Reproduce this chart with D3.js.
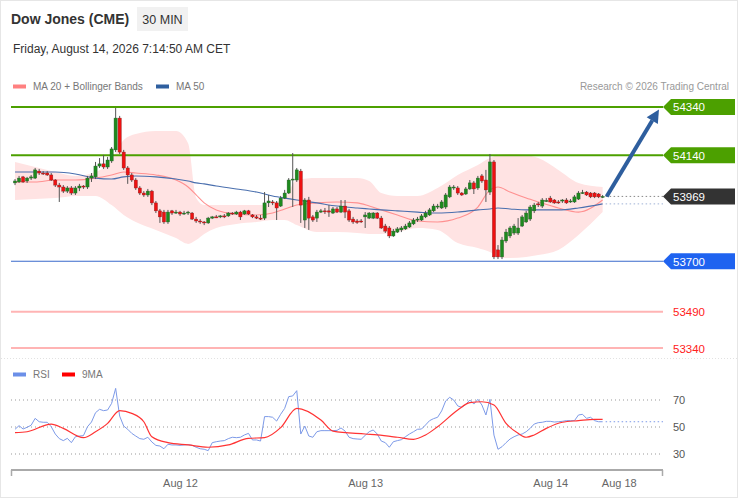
<!DOCTYPE html>
<html>
<head>
<meta charset="utf-8">
<script src="https://cdn.jsdelivr.net/npm/d3@7"></script>
<style>
    body { margin: 0; background: #fff; font-family: "Liberation Sans", Arial, sans-serif; }
</style>
</head>
<body>
<div id="chart"></div>
<script>

// 30 min candles, [open, high, low, close]
const candles = [
    [54025,54041,54016,54033],[54029,54054,54025,54045],[54050,54054,54025,54029],[54033,54050,54025,54045],[54045,54058,54037,54050],
    [54045,54087,54041,54079],[54074,54083,54058,54066],[54066,54074,54058,54064],[54066,54074,54054,54058],[54058,54066,54033,54037],
    [54037,54041,54008,54016],[54016,54025,53946,54008],[54008,54016,53983,53991],[53991,54012,53983,54004],[54004,54012,53975,53983],
    [53983,54012,53975,54004],[54004,54021,53991,54012],[54012,54016,54000,54008],[54008,54054,54000,54045],[54045,54066,54029,54054],
    [54050,54112,54041,54095],[54095,54128,54087,54104],[54104,54141,54083,54091],[54091,54133,54083,54120],[54116,54174,54108,54166],
    [54162,54336,54153,54294],[54294,54303,54145,54153],[54153,54162,54079,54087],[54087,54095,54021,54058],[54058,54066,54029,54037],
    [54037,54045,53996,54004],[54004,54012,53975,53983],[53983,53991,53967,53975],[53975,54000,53967,53991],[53991,53996,53933,53942],
    [53942,53950,53900,53909],[53909,53917,53859,53884],[53904,53913,53855,53863],[53863,53913,53855,53904],[53909,53913,53892,53900],
    [53900,53913,53896,53904],[53904,53909,53888,53896],[53896,53909,53892,53900],[53900,53909,53892,53904],[53900,53904,53871,53875],
    [53875,53884,53859,53867],[53867,53875,53855,53863],[53863,53867,53850,53859],[53859,53884,53855,53879],[53879,53888,53875,53884],
    [53884,53892,53879,53882],[53884,53892,53879,53888],[53888,53896,53879,53886],[53888,53904,53884,53900],[53900,53904,53892,53898],
    [53896,53909,53892,53904],[53904,53909,53871,53884],[53896,53913,53892,53909],[53909,53913,53892,53896],[53892,53896,53879,53884],
    [53884,53892,53875,53879],[53879,53892,53871,53877],[53879,53987,53871,53942],[53942,53975,53925,53950],[53946,53954,53933,53942],
    [53942,53950,53871,53921],[53929,53971,53925,53962],[53962,53996,53958,53983],[53983,54045,53979,54037],[54037,54149,53925,54041],
    [54037,54087,54029,54079],[54074,54083,53859,53933],[53871,53962,53838,53954],[53954,53967,53830,53879],[53884,53892,53863,53871],
    [53879,53913,53863,53904],[53904,53917,53900,53909],[53909,53921,53896,53907],[53909,53933,53884,53904],[53900,53925,53896,53917],
    [53917,53925,53900,53904],[53904,53954,53900,53929],[53929,53954,53879,53904],[53909,53917,53863,53871],[53875,53884,53855,53863],
    [53867,53875,53855,53861],[53867,53875,53859,53863],[53884,53904,53838,53892],[53879,53904,53875,53900],[53879,53904,53875,53900],
    [53900,53904,53875,53879],[53879,53888,53834,53838],[53846,53855,53817,53825],[53838,53846,53796,53805],[53805,53834,53801,53825],
    [53821,53842,53817,53834],[53830,53846,53821,53838],[53834,53855,53830,53846],[53842,53867,53838,53859],[53855,53879,53850,53871],
    [53871,53884,53863,53875],[53871,53896,53867,53888],[53884,53909,53879,53900],[53892,53921,53888,53913],[53909,53938,53904,53929],
    [53927,53938,53917,53929],[53921,53954,53917,53946],[53925,53983,53917,53975],[53967,54016,53962,54008],[54004,54016,53996,54008],
    [54004,54012,53975,53983],[53983,53987,53971,53975],[53979,54008,53975,54000],[54000,54037,53996,54025],[54025,54033,53979,54000],
    [54004,54054,53996,54045],[54054,54062,54025,54033],[54037,54079,53946,53996],[53987,54145,53975,54112],[54112,54120,53709,53718],
    [53747,53767,53709,53718],[53718,53801,53709,53788],[53784,53834,53776,53821],[53805,53846,53796,53838],[53817,53855,53809,53846],
    [53817,53879,53809,53838],[53846,53892,53842,53884],[53863,53909,53859,53900],[53875,53933,53867,53925],[53909,53942,53900,53933],
    [53938,53946,53925,53936],[53929,53962,53921,53954],[53950,53962,53946,53952],[53962,53971,53942,53946],[53954,53958,53938,53942],
    [53946,53954,53938,53944],[53950,53958,53942,53954],[53954,53962,53938,53942],[53946,53958,53942,53950],[53946,53975,53942,53967],
    [53958,53991,53954,53983],[53983,53996,53979,53985],[53987,53991,53971,53975],[53983,53987,53962,53967],[53983,53987,53962,53967],
    [53979,53983,53962,53967],[53967,53975,53962,53969]
];

// indicator readings (candle index -> value)
const bandIdx = [0,5,10,15,20,24,27,30,35,40,43,45,47,50,55,60,64,67,70,75,80,85,88,91,95,100,105,110,115,118,120,123,127,130,135,140,146];
const bandUpper = [54112,54091,54070,54054,54070,54120,54203,54228,54240,54240,54190,53962,53933,53933,53933,53933,53942,53962,54037,54045,54045,54045,54033,53983,53971,53971,54004,54058,54099,54128,54141,54145,54141,54128,54079,54025,54008];
const bandLower = [53954,53958,53962,53971,53971,53933,53892,53863,53830,53796,53772,53788,53813,53838,53855,53863,53871,53871,53850,53821,53821,53817,53813,53813,53821,53838,53830,53776,53755,53738,53718,53713,53718,53726,53747,53809,53904];
const ma20 = [54029,54029,54037,54037,54045,54058,54070,54066,54058,54037,54008,53975,53942,53913,53896,53892,53900,53917,53933,53942,53946,53942,53929,53913,53892,53867,53863,53879,53925,53996,54008,53987,53962,53946,53921,53904,53954];
const ma50 = [54070,54070,54070,54062,54045,54041,54050,54054,54050,54041,54033,54025,54021,54012,54000,53987,53971,53962,53954,53942,53929,53921,53917,53913,53909,53904,53900,53904,53913,53917,53921,53917,53913,53913,53913,53921,53938];

const rsi = [
    48.3,51.0,48.5,49.8,51.3,56.4,53.9,53.5,53.5,50.2,
    44.8,41.4,39.9,41.6,38.4,42.8,43.3,43.6,50.2,53.7,
    60.6,63.1,62.1,62.6,67.5,78.6,58.1,50.7,48.3,45.3,
    43.3,41.4,40.9,42.4,38.9,36.4,35.9,33.9,37.2,36.7,
    36.7,36.4,36.7,36.9,36.4,35.0,33.9,33.5,32.5,38.4,
    39.1,39.6,39.9,41.4,42.4,42.1,42.4,44.1,45.3,40.4,
    40.4,39.6,57.7,57.7,57.2,54.4,59.4,63.8,72.5,73.0,
    76.9,44.8,50.7,43.3,42.4,46.5,47.3,47.3,47.3,47.3,
    47.5,49.3,47.0,42.4,41.4,41.1,40.9,43.8,46.5,47.8,
    44.8,39.6,38.4,35.0,39.1,39.9,40.6,42.8,44.8,46.5,
    48.3,48.5,51.5,54.7,56.2,57.2,61.9,69.3,72.0,70.0,
    65.6,64.6,66.8,70.0,67.0,70.5,66.3,58.9,70.5,44.0,
    33.5,35.4,38.4,41.1,42.8,44.1,44.8,46.5,49.0,52.2,
    53.2,53.5,54.2,54.2,53.7,53.9,54.2,54.7,54.7,54.7,
    58.9,59.4,56.4,57.2,54.7,53.9,53.9
];
const rsiMaIdx = [0,3,9,12,17,20,23,26,29,32,34,38,43,48,53,58,62,66,70,76,79,87,90,95,99,102,105,110,113,116,119,122,125,127,129,132,136,140,144,146];
const rsiMa = [45.8,46.5,52.2,49.0,42.1,46.5,52.7,62.1,60.1,53.9,42.8,38.4,36.7,35.0,36.7,41.6,42.1,49.5,63.8,55.2,47.0,44.8,44.1,42.4,40.9,44.1,50.2,62.6,68.0,68.7,66.3,52.7,45.3,42.4,44.1,49.0,53.5,54.7,55.7,55.7];

const resistances = [54340, 54140];
const lastPrice = 53969;
const support = 53700;
const lowerLevels = [53490, 53340];
const rsiLevels = [70, 50, 30];
const target = 54330;

const tickIdx = [41, 87, 133, 150];
const tickLabels = ["Aug 12", "Aug 13", "Aug 14", "Aug 18"];

// ---------------------------------------------------------------
const W = 738, H = 500;
const left = 11, right = 663;

const svg = d3.select("#chart").append("svg")
    .attr("width", W)
    .attr("height", H);

svg.append("rect")
    .attr("x", 0.5).attr("y", 0.5)
    .attr("width", W - 1).attr("height", H - 3)
    .attr("fill", "#fff")
    .attr("stroke", "#e6e6e6");

// scales
const x = d3.scaleLinear().domain([-1, 161]).range([left, right]);
const y = d3.scaleLinear().domain([53340, 54340]).range([348, 107]);
const yRsi = d3.scaleLinear().domain([30, 70]).range([454, 400]);

// header
svg.append("text")
    .attr("x", 11).attr("y", 24)
    .attr("font-size", 14).attr("font-weight", "bold")
    .attr("fill", "#333")
    .text("Dow Jones (CME)");

svg.append("rect")
    .attr("x", 137).attr("y", 7)
    .attr("width", 51).attr("height", 24)
    .attr("fill", "#f1f1f1");
svg.append("text")
    .attr("x", 162.5).attr("y", 23.5)
    .attr("text-anchor", "middle")
    .attr("font-size", 12.5).attr("fill", "#333")
    .text("30 MIN");

svg.append("text")
    .attr("x", 13).attr("y", 53)
    .attr("font-size", 12).attr("fill", "#333")
    .text("Friday, August 14, 2026 7:14:50 AM CET");

// legend
const legend = [
    { x: 13, color: "#ff8080", label: "MA 20 + Bollinger Bands" },
    { x: 156, color: "#2f5f9f", label: "MA 50" }
];
legend.forEach(d => {
    svg.append("rect").attr("x", d.x).attr("y", 84.5).attr("width", 13).attr("height", 4).attr("fill", d.color);
    svg.append("text").attr("x", d.x + 20).attr("y", 90)
        .attr("font-size", 10).attr("fill", "#777").text(d.label);
});
svg.append("text")
    .attr("x", 729).attr("y", 90)
    .attr("text-anchor", "end")
    .attr("font-size", 10).attr("fill", "#999")
    .text("Research \u00a9 2026 Trading Central");

// bollinger band + moving averages
const bandData = bandIdx.map((d, i) => ({ i: d, up: bandUpper[i], lo: bandLower[i], m20: ma20[i], m50: ma50[i] }));

svg.append("path")
    .datum(bandData)
    .attr("fill", "#ffe3e3")
    .attr("d", d3.area()
        .x(d => x(d.i))
        .y0(d => y(d.lo))
        .y1(d => y(d.up))
        .curve(d3.curveMonotoneX));

svg.append("path")
    .datum(bandData)
    .attr("fill", "none")
    .attr("stroke", "#ff9090")
    .attr("stroke-width", 1.1)
    .attr("d", d3.line().x(d => x(d.i)).y(d => y(d.m20)).curve(d3.curveMonotoneX));

svg.append("path")
    .datum(bandData)
    .attr("fill", "none")
    .attr("stroke", "#4a6fae")
    .attr("stroke-width", 1.1)
    .attr("d", d3.line().x(d => x(d.i)).y(d => y(d.m50)).curve(d3.curveMonotoneX));

// level lines
resistances.forEach(v => {
    svg.append("line")
        .attr("x1", left).attr("x2", right)
        .attr("y1", y(v)).attr("y2", y(v))
        .attr("stroke", "#4ca000").attr("stroke-width", 2);
});
svg.append("line")
    .attr("x1", left).attr("x2", right)
    .attr("y1", y(support)).attr("y2", y(support))
    .attr("stroke", "#3a6acb").attr("stroke-width", 1.2);
lowerLevels.forEach(v => {
    svg.append("line")
        .attr("x1", left).attr("x2", right)
        .attr("y1", y(v)).attr("y2", y(v))
        .attr("stroke", "#ffb4b4").attr("stroke-width", 2);
    svg.append("text")
        .attr("x", 673).attr("y", y(v) + 4.5)
        .attr("font-size", 11.5).attr("fill", "#ff2020")
        .text(v);
});

// dotted extensions from the last bar
const lastI = candles.length - 1;
svg.append("line")
    .attr("x1", x(lastI) + 3).attr("x2", right)
    .attr("y1", y(lastPrice)).attr("y2", y(lastPrice))
    .attr("stroke", "#888").attr("stroke-dasharray", "1.5,2.5");
svg.append("line")
    .attr("x1", x(lastI) + 3).attr("x2", right)
    .attr("y1", y(ma50[ma50.length - 1])).attr("y2", y(ma50[ma50.length - 1]))
    .attr("stroke", "#9fb2d6").attr("stroke-dasharray", "1.5,2.5");

// candles
const bars = svg.append("g").selectAll("g")
    .data(candles)
    .enter()
    .append("g");

bars.append("line")
    .attr("x1", (d, i) => x(i)).attr("x2", (d, i) => x(i))
    .attr("y1", d => y(d[1])).attr("y2", d => y(d[2]))
    .attr("stroke", "#555").attr("stroke-width", 1);

bars.append("rect")
    .attr("x", (d, i) => x(i) - 1.6)
    .attr("width", 3.2)
    .attr("y", d => y(Math.max(d[0], d[3])))
    .attr("height", d => Math.max(1, Math.abs(y(d[0]) - y(d[3]))))
    .attr("fill", d => d[3] >= d[0] ? "#1e8a1e" : "#ee1111")
    .attr("stroke", d => d[3] >= d[0] ? "#2b5e2b" : "#8a2020")
    .attr("stroke-width", 0.4);

// forecast arrow
const ax1 = x(lastI + 1), ay1 = y(lastPrice);
const ax2 = x(160), ay2 = y(target);
const ang = Math.atan2(ay2 - ay1, ax2 - ax1);
const headLen = 13, headW = 6.5;
const bx = ax2 - headLen * Math.cos(ang), by = ay2 - headLen * Math.sin(ang);
svg.append("line")
    .attr("x1", ax1).attr("y1", ay1)
    .attr("x2", bx).attr("y2", by)
    .attr("stroke", "#2e5e9e").attr("stroke-width", 4);
svg.append("path")
    .attr("d", "M" + ax2 + "," + ay2 +
        "L" + (bx + headW * Math.sin(ang)) + "," + (by - headW * Math.cos(ang)) +
        "L" + (bx - headW * Math.sin(ang)) + "," + (by + headW * Math.cos(ang)) + "Z")
    .attr("fill", "#2e5e9e");

// price tags on the right
const tags = [
    { v: resistances[0], fill: "#4ca000" },
    { v: resistances[1], fill: "#4ca000" },
    { v: lastPrice, fill: "#333333" },
    { v: support, fill: "#1f63f0" }
];
tags.forEach(t => {
    let ty = y(t.v);
    svg.append("path")
        .attr("d", "M663," + ty + "L671," + (ty - 8) + "L735," + (ty - 8) + "L735," + (ty + 8) + "L671," + (ty + 8) + "Z")
        .attr("fill", t.fill);
    svg.append("text")
        .attr("x", 673).attr("y", ty + 4.3)
        .attr("font-size", 11.5).attr("fill", "#fff")
        .text(t.v);
});

// separator
svg.append("line")
    .attr("x1", 1).attr("x2", W - 1)
    .attr("y1", 358.5).attr("y2", 358.5)
    .attr("stroke", "#e2e2e2").attr("stroke-dasharray", "1,2");

// RSI panel
const rsiLegend = [
    { x: 13, color: "#6b8fe8", label: "RSI" },
    { x: 62, color: "#ff0000", label: "9MA" }
];
rsiLegend.forEach(d => {
    svg.append("rect").attr("x", d.x).attr("y", 372.5).attr("width", 13).attr("height", 4).attr("fill", d.color);
    svg.append("text").attr("x", d.x + 20).attr("y", 378)
        .attr("font-size", 10).attr("fill", "#777").text(d.label);
});

rsiLevels.forEach(v => {
    svg.append("line")
        .attr("x1", left).attr("x2", right)
        .attr("y1", yRsi(v)).attr("y2", yRsi(v))
        .attr("stroke", "#999").attr("stroke-dasharray", "1,3");
    svg.append("text")
        .attr("x", 673).attr("y", yRsi(v) + 4)
        .attr("font-size", 11).attr("fill", "#555")
        .text(v);
});

svg.append("path")
    .datum(rsi)
    .attr("fill", "none")
    .attr("stroke", "#7d9ae8")
    .attr("stroke-width", 1)
    .attr("d", d3.line().x((d, i) => x(i)).y(d => yRsi(d)));

svg.append("line")
    .attr("x1", x(lastI) + 3).attr("x2", right)
    .attr("y1", yRsi(rsi[lastI])).attr("y2", yRsi(rsi[lastI]))
    .attr("stroke", "#7d9ae8").attr("stroke-dasharray", "1.5,2.5");

svg.append("path")
    .datum(rsiMaIdx.map((d, i) => [d, rsiMa[i]]))
    .attr("fill", "none")
    .attr("stroke", "#ff3333")
    .attr("stroke-width", 1.2)
    .attr("d", d3.line().x(d => x(d[0])).y(d => yRsi(d[1])).curve(d3.curveMonotoneX));

// x axis
svg.append("line")
    .attr("x1", left).attr("x2", right)
    .attr("y1", 470).attr("y2", 470)
    .attr("stroke", "#aaa").attr("stroke-width", 2);
[left + 0.5, right - 0.5].forEach(px => {
    svg.append("line")
        .attr("x1", px).attr("x2", px)
        .attr("y1", 470).attr("y2", 476)
        .attr("stroke", "#aaa").attr("stroke-width", 1.5);
});

const xAxis = d3.axisBottom(x)
    .tickValues(tickIdx)
    .tickFormat((d, i) => tickLabels[i])
    .tickSize(0)
    .tickPadding(9);

svg.append("g")
    .attr("class", "axis x-axis")
    .attr("transform", "translate(0,470)")
    .call(xAxis)
    .call(g => g.select(".domain").remove())
    .selectAll("text")
    .attr("font-family", "Liberation Sans, Arial, sans-serif")
    .attr("font-size", 11)
    .attr("fill", "#666");

</script>
</body>
</html>
